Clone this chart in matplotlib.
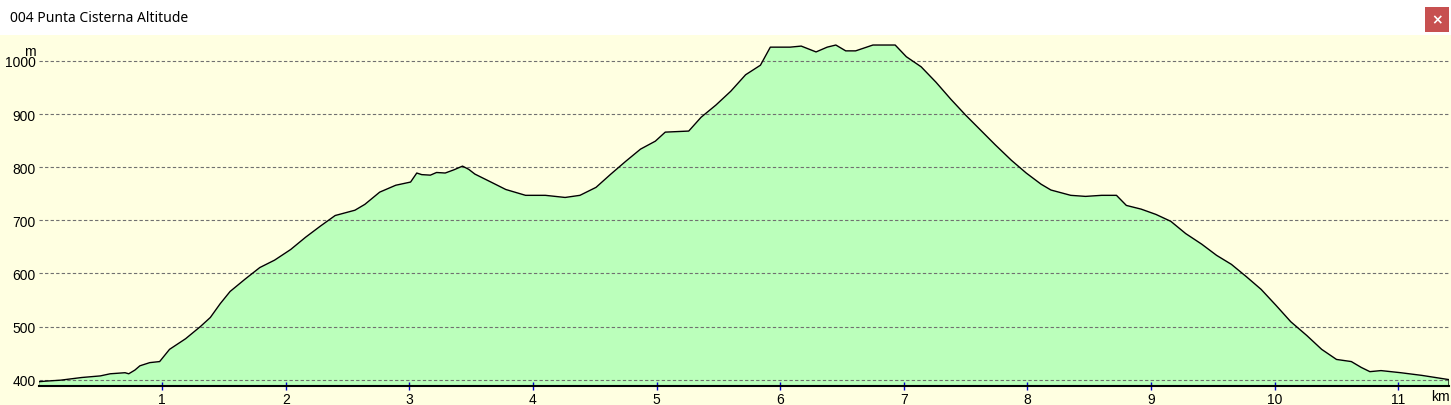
import numpy as np
import matplotlib
matplotlib.use("Agg")
import matplotlib.pyplot as plt
from matplotlib.patches import Rectangle

titlu = "004 Punta Cisterna Altitude"

dist_km = [0.0, 0.05, 0.18, 0.35, 0.5, 0.58, 0.7, 0.73, 0.78, 0.82, 0.9, 0.98,
           1.06, 1.19, 1.31, 1.39, 1.47, 1.55, 1.67, 1.79, 1.91, 2.04, 2.16,
           2.28, 2.4, 2.56, 2.64, 2.76, 2.89, 3.01, 3.06, 3.1, 3.17, 3.22,
           3.29, 3.36, 3.43, 3.48, 3.53, 3.66, 3.78, 3.94, 4.1, 4.26, 4.38,
           4.51, 4.63, 4.75, 4.87, 4.99, 5.07, 5.26, 5.36, 5.48, 5.6, 5.72,
           5.84, 5.92, 6.08, 6.17, 6.29, 6.38, 6.45, 6.53, 6.61, 6.75, 6.93,
           7.02, 7.14, 7.26, 7.38, 7.5, 7.62, 7.74, 7.87, 7.99, 8.11, 8.19,
           8.35, 8.47, 8.6, 8.72, 8.8, 8.92, 9.04, 9.16, 9.28, 9.41, 9.53,
           9.65, 9.77, 9.89, 10.01, 10.13, 10.26, 10.38, 10.5, 10.62, 10.7,
           10.77, 10.86, 11.02, 11.19, 11.41]
altitudine = [396, 397, 399, 404, 407, 411, 413, 411, 418, 426, 432, 434,
              457, 477, 500, 517, 543, 566, 589, 611, 625, 645, 668,
              689, 709, 719, 730, 753, 766, 772, 789, 786, 785, 790,
              789, 795, 802, 796, 787, 772, 758, 747, 747, 743, 747,
              762, 787, 811, 834, 849, 866, 868, 894, 917, 943, 974,
              992, 1026, 1026, 1028, 1017, 1026, 1030, 1019, 1019, 1030, 1030,
              1008, 989, 960, 928, 898, 870, 842, 813, 789, 768, 757,
              747, 745, 747, 747, 728, 721, 711, 698, 675, 655, 634,
              617, 594, 570, 540, 509, 483, 457, 438, 434, 423,
              415, 417, 413, 408, 400]

yticks = [400, 500, 600, 700, 800, 900, 1000]
xticks = [1, 2, 3, 4, 5, 6, 7, 8, 9, 10, 11]

galben = "#ffffe1"
verde = "#bbffbb"

W, H = 1451, 406
fig = plt.figure(figsize=(W / 100, H / 100), dpi=100)
fig.patch.set_facecolor(galben)

# bara de titlu
fig.add_artist(Rectangle((0, 1 - 36 / H), 1, 36 / H, transform=fig.transFigure,
                         facecolor="white", edgecolor="none"))
fig.text(10 / W, 1 - 18 / H, titlu, ha="left", va="center", fontsize=10,
         family="Noto Sans", color="black")
fig.add_artist(Rectangle((1425 / W, 1 - 33 / H), 24 / W, 25 / H,
                         transform=fig.transFigure, facecolor="#c75050",
                         edgecolor="none"))
fig.text(1437 / W, 1 - 20 / H, "\u00d7", ha="center", va="center",
         fontsize=10, color="white", fontweight="bold")

ymin = 388
ymax = 1047
ax = fig.add_axes([38.5 / W, 19 / H, (1449 - 38.5) / W, (387 - 37) / H])
ax.set_facecolor(galben)
ax.set_xlim(0, 11.41)
ax.set_ylim(ymin, ymax)

x = np.array(dist_km)
y = np.array(altitudine)
ax.fill_between(x, ymin, y, color=verde, lw=0, zorder=1)
ax.plot(np.r_[x[0], x, x[-1]], np.r_[ymin, y, ymin], color="black", lw=1,
        zorder=3)

for v in yticks:
    ax.axhline(v, color="#707070", lw=0.8, ls=(0, (3, 2)), zorder=2)

for s in ["top", "right", "left"]:
    ax.spines[s].set_visible(False)
ax.spines["bottom"].set_linewidth(1.5)
ax.spines["bottom"].set_zorder(4)

ax.set_xticks(xticks)
ax.set_xticklabels([str(t) for t in xticks])
ax.set_yticks(yticks)
ax.set_yticklabels([str(t) for t in yticks])
ax.tick_params(axis="x", direction="inout", length=6, color="#0000cc",
               width=1, pad=1, labelsize=10)
ax.tick_params(axis="y", length=0, pad=2, labelsize=10)
for lbl in ax.get_xticklabels() + ax.get_yticklabels():
    lbl.set_family("Liberation Sans")

fig.text(30 / W, 1 - 52 / H, "m", ha="center", va="center", fontsize=10,
         family="Liberation Sans")
fig.text(1440 / W, 1 - 397 / H, "km", ha="center", va="center", fontsize=10,
         family="Liberation Sans")

fig.savefig("out.png", dpi=100, facecolor=fig.get_facecolor())
